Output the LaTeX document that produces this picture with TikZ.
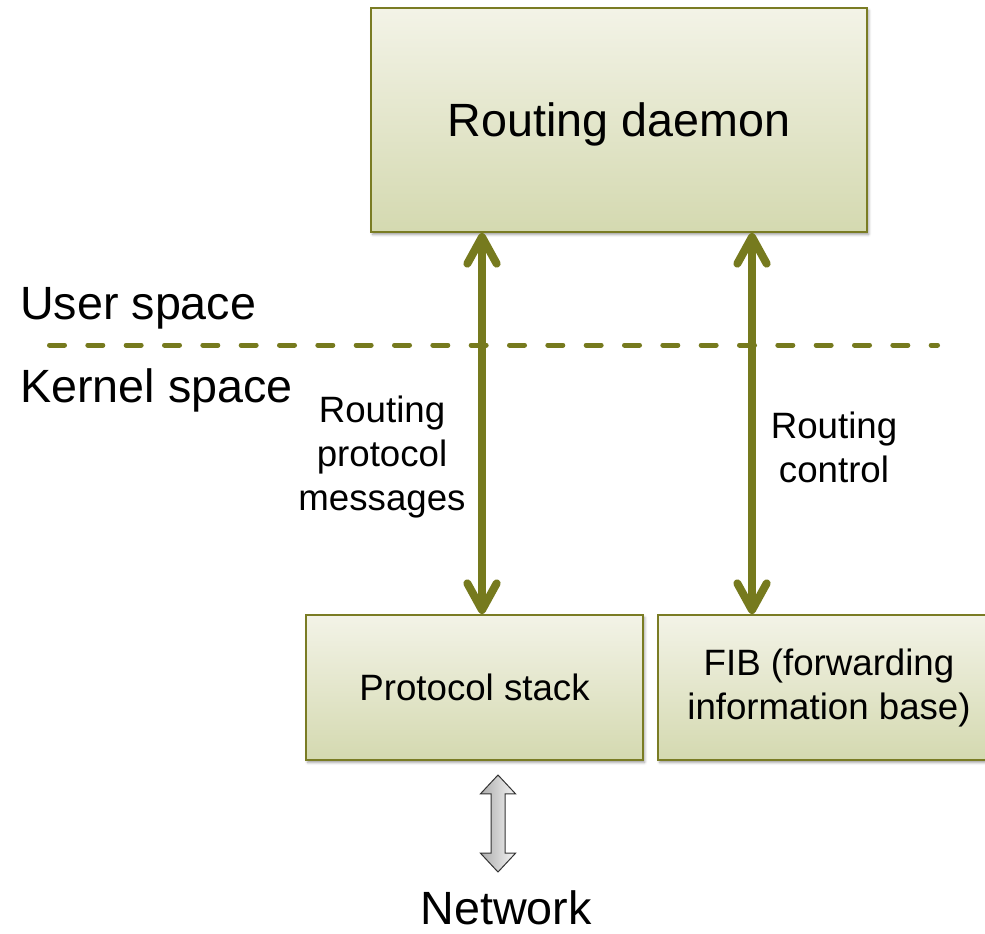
\documentclass[tikz,border=0pt]{standalone}
\usepackage{fontspec}
\setmainfont{Liberation Sans}
\usetikzlibrary{arrows.meta,shapes.arrows,shadows.blur}

\definecolor{routeolive}{RGB}{118,122,30}
\definecolor{boxedge}{RGB}{122,124,36}
\definecolor{boxtop}{RGB}{243,243,231}
\definecolor{boxbottom}{RGB}{212,217,176}

\newcommand\labelbig{\fontsize{35pt}{42pt}\selectfont}
\newcommand\labelsmall{\fontsize{27.5pt}{33pt}\selectfont}

\tikzset{
  layerbox/.style={draw=boxedge, line width=1.5pt, top color=boxtop, bottom color=boxbottom,
    inner sep=0pt, align=center, font=\labelsmall,
    blur shadow={shadow xshift=1.2pt, shadow yshift=-1.8pt, shadow blur radius=2pt, shadow opacity=40}},
  spaceline/.style={draw=routeolive, line width=3.75pt, line cap=round, dash pattern=on 11.25pt off 17.5pt},
  routearrow/.style={draw=routeolive, line width=6pt,
    {Straight Barb[round, length=20pt, width=22pt]}-{Straight Barb[round, length=20pt, width=22pt]}},
  spacelabel/.style={inner sep=0pt, font=\labelbig},
  arrowlabel/.style={inner sep=0pt, align=center, font=\labelsmall},
  netarrow/.style={shape=double arrow, rotate=90, draw=black!80, line width=0.75pt,
    left color=gray!65, right color=gray!8, inner xsep=0pt, inner ysep=4.875pt,
    minimum height=72.75pt, double arrow head extend=7.9pt, double arrow tip angle=86}
}

\begin{document}
\begin{tikzpicture}[x=0.75pt, y=-0.75pt]
  \useasboundingbox (0,0) rectangle (985,933);
  \clip (0,0) rectangle (985,933);
  % The boxes
  \node[layerbox, font=\labelbig, text depth=0pt, minimum width=372pt, minimum height=168pt] (daemon) at (619,120) {Routing daemon};
  \node[layerbox, minimum width=252.75pt, minimum height=108.75pt] (stack) at (474.5,687.5) {Protocol stack};
  \node[layerbox, minimum width=256.5pt, minimum height=108.75pt] (fib) at (829,687.5) {FIB (forwarding\\information base)};
  % Separation line
  \coordinate (sepW) at (49.5,345);
  \coordinate (sepE) at (937.5,345);
  \draw[spaceline] (sepW) -- (sepE);
  \node[spacelabel, anchor=base west] (user) at (20,319) {User space};
  \node[spacelabel, anchor=base west] (kernel) at (20,402) {Kernel space};
  % The arrows
  \coordinate (msgx) at (482,0);
  \coordinate (ctlx) at (752,0);
  \draw[routearrow] (stack.north -| msgx) -- (daemon.south -| msgx);
  \draw[routearrow] (fib.north -| ctlx) -- (daemon.south -| ctlx);
  \node[arrowlabel] (msglabel) at (382,457) {Routing\\protocol\\messages};
  \node[arrowlabel] (ctllabel) at (834,447) {Routing\\control};
  % Network
  \node[netarrow] (netlink) at (498,823.5) {};
  \node[spacelabel, anchor=base] (network) at (506,924) {Network};
\end{tikzpicture}
\end{document}
